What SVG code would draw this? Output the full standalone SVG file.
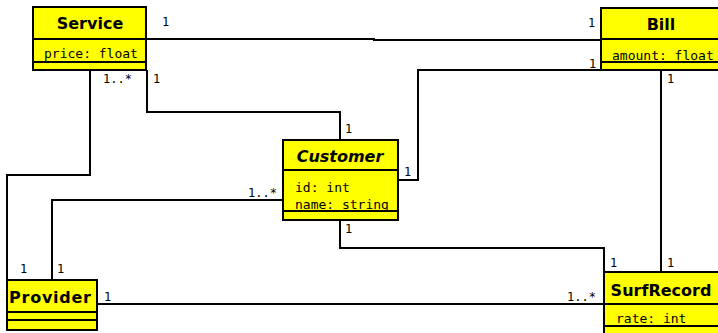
<svg xmlns="http://www.w3.org/2000/svg" width="718" height="333" viewBox="0 0 718 333">
<style>
.box{fill:#ffff00;stroke:#000;stroke-width:2}
.sep{stroke:#000;stroke-width:2;fill:none}
.ln{fill:none;stroke:#000;stroke-width:2}
.nm{font-family:"DejaVu Sans",sans-serif;font-weight:bold;font-size:16px;text-anchor:middle;fill:#000}
.it{font-style:italic}
.at{font-family:"DejaVu Sans Mono",monospace;font-size:13px;fill:#000}
.lb{font-family:"DejaVu Sans Mono",monospace;font-size:12px;fill:#000}
</style>
<rect width="718" height="333" fill="#fff"/>
<g id="connectors">
<polyline class="ln" points="146,39 374,39 374,40 601,40"/>
<polyline class="ln" points="147,70 147,112 340,112 340,140"/>
<polyline class="ln" points="90,70 90,175 7,175 7,280"/>
<polyline class="ln" points="283,200 52,200 52,280"/>
<polyline class="ln" points="398,180 418,180 418,70 601,70"/>
<polyline class="ln" points="340,220 340,248 604,248 604,272"/>
<line class="ln" x1="661" y1="70" x2="661" y2="272"/>
<line class="ln" x1="97" y1="304" x2="604" y2="304"/>
<text class="lb" x="162" y="26">1</text>
<text class="lb" x="588" y="27">1</text>
<text class="lb" x="589" y="68">1</text>
<text class="lb" x="667" y="83">1</text>
<text class="lb" x="103" y="83">1..*</text>
<text class="lb" x="153" y="83">1</text>
<text class="lb" x="345" y="133">1</text>
<text class="lb" x="404" y="176">1</text>
<text class="lb" x="248" y="197">1..*</text>
<text class="lb" x="345" y="233">1</text>
<text class="lb" x="20" y="273">1</text>
<text class="lb" x="57" y="273">1</text>
<text class="lb" x="104" y="301">1</text>
<text class="lb" x="567" y="301">1..*</text>
<text class="lb" x="610" y="267">1</text>
<text class="lb" x="667" y="267">1</text>
</g>
<g id="Service">
<rect class="box" x="33" y="7" width="113" height="63"/>
<line class="sep" x1="33" y1="39" x2="146" y2="39"/>
<line class="sep" x1="33" y1="62" x2="146" y2="62"/>
<text class="nm" x="90" y="29">Service</text>
<text class="at" x="44" y="58">price: float</text>
</g>
<g id="Bill">
<rect class="box" x="601" y="8" width="130" height="62"/>
<line class="sep" x1="601" y1="39" x2="731" y2="39"/>
<line class="sep" x1="601" y1="62" x2="731" y2="62"/>
<text class="nm" x="661" y="30">Bill</text>
<text class="at" x="612" y="60">amount: float</text>
</g>
<g id="Customer">
<rect class="box" x="283" y="140" width="115" height="80"/>
<line class="sep" x1="283" y1="170" x2="398" y2="170"/>
<line class="sep" x1="283" y1="211" x2="398" y2="211"/>
<text class="nm it" x="340" y="162">Customer</text>
<text class="at" x="295" y="192">id: int</text>
<text class="at" x="295" y="209">name: string</text>
</g>
<g id="Provider">
<rect class="box" x="7" y="280" width="90" height="50"/>
<line class="sep" x1="7" y1="312" x2="97" y2="312"/>
<line class="sep" x1="7" y1="320" x2="97" y2="320"/>
<text class="nm" x="50" y="303" textLength="82" lengthAdjust="spacing">Provider</text>
</g>
<g id="SurfRecord">
<rect class="box" x="604" y="272" width="127" height="75"/>
<line class="sep" x1="604" y1="304" x2="731" y2="304"/>
<line class="sep" x1="604" y1="326" x2="731" y2="326"/>
<text class="nm" x="661" y="296">SurfRecord</text>
<text class="at" x="616" y="323">rate: int</text>
</g>
</svg>
